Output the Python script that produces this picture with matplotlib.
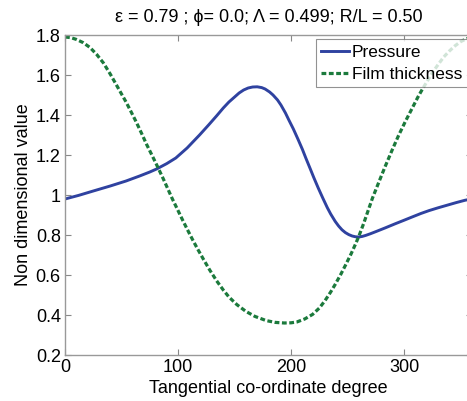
import matplotlib
matplotlib.use("Agg")
import matplotlib.pyplot as plt

plt.rcParams['font.family'] = ['Liberation Sans', 'DejaVu Sans']

# Pressure curve (degrees, value)
pressure_x = [0, 12, 25, 40, 54, 66, 75, 81, 90, 98, 108, 119, 127, 134, 140, 145,
              150, 154, 158, 162, 166, 170, 174, 177, 181, 184, 188, 191, 195, 198,
              202, 206, 210, 213, 217, 220, 224, 228, 232, 235, 239, 242, 245, 248,
              251, 254, 257, 260, 263, 266, 270, 275, 283, 292, 300, 307, 315, 322,
              330, 338, 346, 354, 360]
pressure_y = [0.98, 0.998, 1.02, 1.045, 1.07, 1.095, 1.115, 1.13, 1.157, 1.185, 1.235,
              1.30, 1.35, 1.395, 1.435, 1.465, 1.49, 1.51, 1.525, 1.535, 1.54, 1.541,
              1.537, 1.53, 1.515, 1.50, 1.475, 1.45, 1.41, 1.375, 1.33, 1.28, 1.228,
              1.185, 1.13, 1.088, 1.035, 0.985, 0.937, 0.905, 0.868, 0.845, 0.826,
              0.812, 0.802, 0.795, 0.791, 0.79, 0.793, 0.798, 0.806, 0.817, 0.835,
              0.856, 0.874, 0.89, 0.908, 0.922, 0.936, 0.949, 0.962, 0.974, 0.98]

# Film thickness curve (degrees, value)
film_x = [0, 5, 10, 16, 22, 28, 34, 40, 45, 50, 54, 59, 63, 68, 72, 77, 82, 87, 91, 95,
          100, 104, 108, 113, 117, 122, 128, 134, 140, 145, 152, 160, 168, 178, 186,
          194, 200, 205, 212, 219, 225, 230, 235, 239, 244, 248, 253, 257, 260, 264,
          268, 272, 278, 283, 289, 295, 301, 307, 312, 316, 321, 325, 330, 335, 340,
          345, 350, 355, 360]
film_y = [1.79, 1.787, 1.778, 1.762, 1.738, 1.703, 1.66, 1.605, 1.555, 1.505, 1.465,
          1.41, 1.365, 1.305, 1.255, 1.198, 1.14, 1.08, 1.03, 0.98, 0.922, 0.875, 0.83,
          0.775, 0.733, 0.683, 0.625, 0.572, 0.525, 0.49, 0.452, 0.418, 0.393, 0.372,
          0.363, 0.36, 0.361, 0.365, 0.38, 0.403, 0.435, 0.472, 0.515, 0.553, 0.604,
          0.648, 0.705, 0.755, 0.795, 0.855, 0.92, 0.985, 1.07, 1.14, 1.22, 1.297,
          1.367, 1.433, 1.488, 1.528, 1.575, 1.612, 1.652, 1.69, 1.72, 1.746, 1.767,
          1.781, 1.79]

xticks = [0, 100, 200, 300]
yticks = [0.2, 0.4, 0.6, 0.8, 1.0, 1.2, 1.4, 1.6, 1.8]
ytick_labels = ['0.2', '0.4', '0.6', '0.8', '1', '1.2', '1.4', '1.6', '1.8']

W, H = 467, 401
fig = plt.figure(figsize=(W / 100, H / 100), dpi=100)
ax = fig.add_axes([65 / W, 1 - 355 / H, (472 - 65) / W, (355 - 35) / H])

ax.plot(pressure_x, pressure_y, color='#2f42a0', lw=2.1, label='Pressure')
ax.plot(film_x, film_y, color='#1b7a3c', lw=2.3, ls=(0, (1.5, 0.8)), label='Film thickness')

ax.set_xlim(0, 360)
ax.set_ylim(0.2, 1.8)
ax.set_xticks(xticks)
ax.set_yticks(yticks)
ax.set_yticklabels(ytick_labels)
ax.tick_params(direction='in', top=True, right=True, labelsize=13, length=4,
               color='#888888', pad=3)
for s in ax.spines.values():
    s.set_color('#999999')
    s.set_linewidth(1.0)

ax.set_xlabel('Tangential co-ordinate degree', fontsize=13, labelpad=3)
ax.set_ylabel('Non dimensional value', fontsize=13, labelpad=3)
ax.set_title('ε = 0.79 ; ϕ= 0.0; Λ = 0.499; R/L = 0.50', fontsize=13, pad=9)

leg = ax.legend(loc='upper right', fontsize=12.5, frameon=True, fancybox=False,
                edgecolor='#777777', borderpad=0.3, handlelength=1.6,
                handletextpad=0.2, labelspacing=0.4, borderaxespad=0.25)
leg.get_frame().set_linewidth(0.8)

fig.savefig('out.png', dpi=100)
